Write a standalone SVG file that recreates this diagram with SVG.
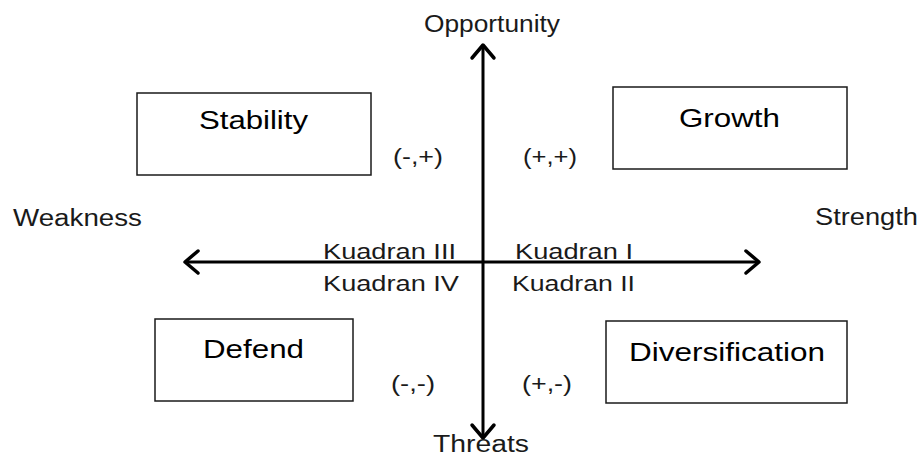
<svg xmlns="http://www.w3.org/2000/svg" width="922" height="458" viewBox="0 0 922 458">
  <style>
    .box { fill: #ffffff; stroke: #1a1a1a; stroke-width: 1.5; }
    .name { font-family: "Liberation Sans", Arial, sans-serif; font-size: 26px; fill: #000; }
    .axis-label { font-family: "Liberation Sans", Arial, sans-serif; font-size: 23px; fill: #1a1a1a; }
    .quad { font-family: "Liberation Sans", Arial, sans-serif; font-size: 22px; fill: #1a1a1a; }
    .sign { font-family: "Liberation Sans", Arial, sans-serif; font-size: 22px; fill: #1a1a1a; }
    .axis { stroke: #000; stroke-width: 3; fill: none; }
    .head { stroke: #000; stroke-width: 3.5; fill: none; stroke-linecap: round; stroke-linejoin: round; }
  </style>

  <rect width="922" height="458" fill="#ffffff"/>

  <!-- axes with open chevron arrowheads -->
  <g id="connectors">
    <line class="axis" x1="483" y1="46" x2="483" y2="437"/>
    <line class="axis" x1="186" y1="262" x2="758" y2="262"/>
    <polyline class="head" points="472,58 483,45 494,58"/>
    <polyline class="head" points="472,425 483,438 494,425"/>
    <polyline class="head" points="198,251 185,262 198,273"/>
    <polyline class="head" points="746,251 759,262 746,273"/>
  </g>

  <!-- axis end labels -->
  <g id="axis-labels">
    <text class="axis-label" x="424" y="32" textLength="136" lengthAdjust="spacingAndGlyphs">Opportunity</text>
    <text class="axis-label" x="433" y="452" textLength="96" lengthAdjust="spacingAndGlyphs">Threats</text>
    <text class="axis-label" x="13" y="226" textLength="129" lengthAdjust="spacingAndGlyphs">Weakness</text>
    <text class="axis-label" x="815" y="225" textLength="103" lengthAdjust="spacingAndGlyphs">Strength</text>
  </g>

  <!-- quadrant names around the origin -->
  <g id="quadrants">
    <text class="quad" x="323" y="259" textLength="133" lengthAdjust="spacingAndGlyphs">Kuadran III</text>
    <text class="quad" x="515" y="259" textLength="118" lengthAdjust="spacingAndGlyphs">Kuadran I</text>
    <text class="quad" x="323" y="291" textLength="136" lengthAdjust="spacingAndGlyphs">Kuadran IV</text>
    <text class="quad" x="512" y="291" textLength="123" lengthAdjust="spacingAndGlyphs">Kuadran II</text>
  </g>

  <!-- sign pairs -->
  <g id="signs">
    <text class="sign" x="393" y="164" textLength="50" lengthAdjust="spacingAndGlyphs">(-,+)</text>
    <text class="sign" x="523" y="164" textLength="54" lengthAdjust="spacingAndGlyphs">(+,+)</text>
    <text class="sign" x="391" y="391" textLength="44" lengthAdjust="spacingAndGlyphs">(-,-)</text>
    <text class="sign" x="522" y="391" textLength="50" lengthAdjust="spacingAndGlyphs">(+,-)</text>
  </g>

  <!-- strategy boxes -->
  <g id="stability">
    <rect class="box" x="137" y="93" width="234" height="82"/>
    <text class="name" x="199" y="129" textLength="109" lengthAdjust="spacingAndGlyphs">Stability</text>
  </g>
  <g id="growth">
    <rect class="box" x="613" y="87" width="234" height="82"/>
    <text class="name" x="679" y="127" textLength="101" lengthAdjust="spacingAndGlyphs">Growth</text>
  </g>
  <g id="defend">
    <rect class="box" x="155" y="319" width="198" height="82"/>
    <text class="name" x="203" y="358" textLength="101" lengthAdjust="spacingAndGlyphs">Defend</text>
  </g>
  <g id="diversification">
    <rect class="box" x="606" y="321" width="241" height="82"/>
    <text class="name" x="629" y="361" textLength="196" lengthAdjust="spacingAndGlyphs">Diversification</text>
  </g>
</svg>
